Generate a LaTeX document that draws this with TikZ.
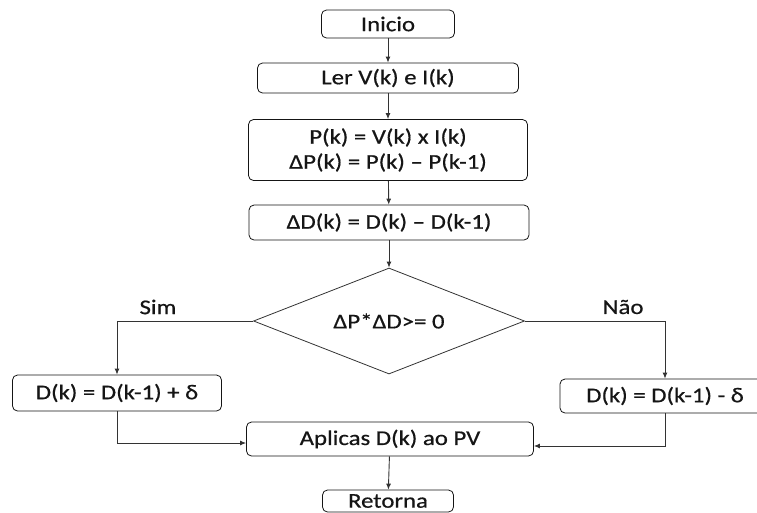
\documentclass[tikz,border=0pt]{standalone}
\usepackage{fontspec}
\setmainfont{Carlito}[FakeStretch=1.18, FakeBold=0.6]
\usetikzlibrary{shapes.geometric,arrows.meta}
\definecolor{flowink}{HTML}{151515}
\definecolor{flowline}{HTML}{333333}
\newcommand{\flowframe}{(0,0) rectangle (757,-512)}

\begin{document}
\begin{tikzpicture}[x=1pt, y=1pt, every node/.style={font=\fontsize{21}{25}\selectfont, text=flowink},
  passo/.style={draw=flowink, line width=0.8pt, rounded corners=5pt, inner sep=0pt},
  decisao/.style={draw=flowline, line width=0.8pt, diamond, aspect=2.56, minimum width=271pt, minimum height=106pt, inner sep=0pt},
  seta/.style={draw=flowline, line width=0.9pt, -{Latex[length=6pt,width=5pt]}}]

  \useasboundingbox \flowframe;

  %% Main column
  \node[passo, minimum width=133pt, minimum height=28pt] (inicio) at (388,-24) {Inicio};
  \node[passo, minimum width=261pt, minimum height=30pt] (ler) at (388,-78) {Ler V(k) e I(k)};
  \node[passo, minimum width=279pt, minimum height=61pt, align=center] (pot) at (388,-150) {P(k) = V(k) x I(k)\\ΔP(k) = P(k) – P(k-1)};
  \node[passo, minimum width=280pt, minimum height=35pt] (dD) at (389,-222.5) {ΔD(k) = D(k) – D(k-1)};
  \node[decisao] (dec) at (389,-321) {ΔP*ΔD>= 0};

  %% Branches
  \node[passo, minimum width=209pt, minimum height=36pt] (mais) at (117,-393) {D(k) = D(k-1) + δ};
  \node[passo, minimum width=210pt, minimum height=34pt] (menos) at (665,-396) {D(k) = D(k-1) - δ};
  \node (sim) at (158,-307) {Sim};
  \node (nao) at (623,-307) {Não};

  %% Bottom
  \node[passo, minimum width=287pt, minimum height=34pt] (aplica) at (390,-439) {Aplicas D(k) ao PV};
  \node[passo, minimum width=131pt, minimum height=22pt] (retorna) at (388,-501) {Retorna};

  \draw[seta] (inicio) -- (ler);
  \draw[seta] (ler) -- (pot);
  \draw[seta] (pot) -- (dD);
  \draw[seta] (dD) -- (dec);
  \draw[seta] (dec.west) -| (mais.north);
  \draw[seta] (dec.east) -| (menos.north);
  \draw[seta] (mais.south) |- ([yshift=-4pt]aplica.west);
  \draw[seta] (menos.south) |- ([yshift=-7pt]aplica.east);
  \draw[seta] (aplica) -- (retorna);

\end{tikzpicture}
\end{document}
